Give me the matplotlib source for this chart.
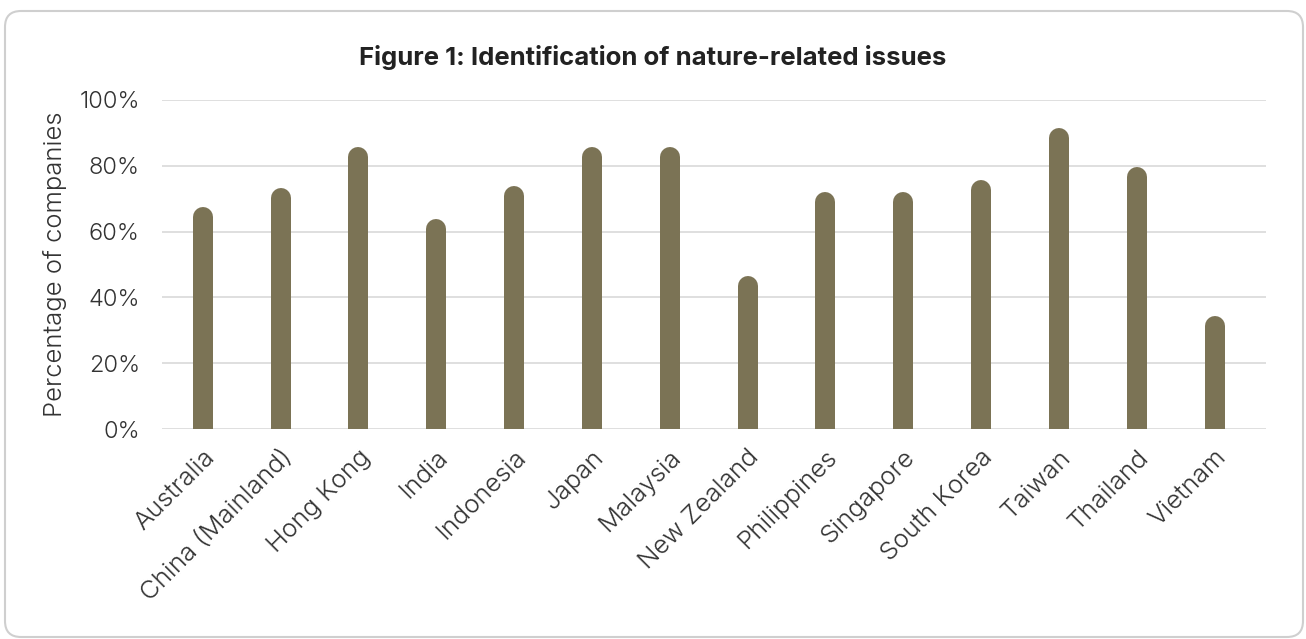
import matplotlib
matplotlib.use("Agg")
import matplotlib.pyplot as plt
from matplotlib.patches import FancyBboxPatch
from matplotlib.transforms import offset_copy, IdentityTransform
from matplotlib.ticker import FuncFormatter

plt.rcParams['font.family'] = ['Inter', 'DejaVu Sans']

markets = ['Australia', 'China (Mainland)', 'Hong Kong', 'India', 'Indonesia',
           'Japan', 'Malaysia', 'New Zealand', 'Philippines', 'Singapore',
           'South Korea', 'Taiwan', 'Thailand', 'Vietnam']
share = [67.6, 73.4, 85.8, 63.8, 73.9, 85.8, 85.7, 46.4, 72.1, 72.1,
         75.8, 91.5, 79.5, 34.2]

bar_color = '#7b7355'
grid_color = '#d9d9d9'
text_color = '#333333'
LIGHT = 300

DPI = 100
fig = plt.figure(figsize=(13.06, 6.39), dpi=DPI)
ax = fig.add_axes([162 / 1306, 1 - 429 / 639, 1104 / 1306, 329 / 639])

# rounded-top bars: thick lines with round caps, shifted down by the cap radius
bar_px = 20
shifted = offset_copy(ax.transData, fig=fig, y=-bar_px / 2, units='dots')
x = list(range(len(markets)))
ax.vlines(x, 0, share, colors=bar_color, linewidth=bar_px * 72 / DPI,
          capstyle='round', transform=shifted, zorder=3)

ax.set_xlim(-0.523, 13.66)
ax.set_ylim(0, 100)
ax.set_yticks(range(0, 101, 20))
ax.yaxis.set_major_formatter(FuncFormatter(lambda v, _: f'{v:.0f}%'))
ax.grid(axis='y', color=grid_color, linewidth=1.2)
ax.set_axisbelow(True)
for s in ax.spines.values():
    s.set_visible(False)

ax.set_xticks(x)
ax.set_xticklabels(markets, rotation=45, ha='right', rotation_mode='anchor',
                   fontsize=18.5, color=text_color, fontweight=LIGHT)
ax.tick_params(axis='both', length=0)
ax.tick_params(axis='x', pad=12)
ax.tick_params(axis='y', pad=16, labelsize=17, labelcolor=text_color)
for lbl in ax.get_yticklabels():
    lbl.set_fontweight(LIGHT)

ax.set_ylabel('Percentage of companies', fontsize=18.5, color=text_color,
              fontweight=LIGHT, labelpad=9)

fig.text(0.5, 1 - 58 / 639, 'Figure 1: Identification of nature-related issues',
         ha='center', va='center', fontsize=18.5, fontweight='bold', color='#222222')

# outer frame with rounded corners
frame = FancyBboxPatch((5, 2), 1298, 626, boxstyle='round,pad=0,rounding_size=16',
                       transform=IdentityTransform(), facecolor='none',
                       edgecolor='#cfcfcf', linewidth=1.5)
fig.patches.append(frame)

fig.savefig('out.png', dpi=DPI)
